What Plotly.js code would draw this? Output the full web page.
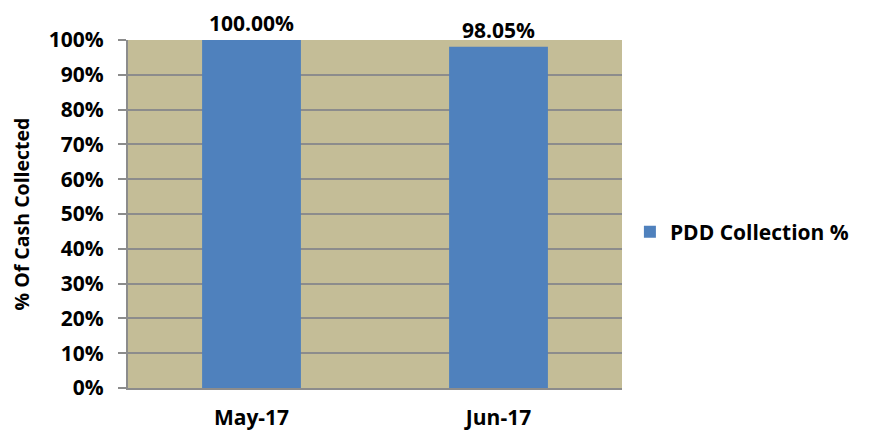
<!DOCTYPE html>
<html><head><meta charset="utf-8">
<script src="https://cdn.plot.ly/plotly-3.0.1.min.js"></script>
<style>body{margin:0;background:#fff}#c{width:877px;height:435px}</style>
</head><body><div id="c"></div>
<script>
const categories = ["May-17", "Jun-17"];
const collectionPct = [1.0, 0.9805];
const seriesName = "PDD Collection %";
const yTickVals = [0,0.1,0.2,0.3,0.4,0.5,0.6,0.7,0.8,0.9,1.0];

const F = "Open Sans, Lato, sans-serif";
const trace = {
  type: "bar", x: categories, y: collectionPct, name: seriesName,
  marker: {color: "#4F81BD"},
  texttemplate: "%{y:.2%}", textposition: "outside", cliponaxis: false,
  textfont: {family: F, size: 21, color: "#000", weight: 700}
};
const layout = {
  width: 877, height: 435,
  margin: {l: 128, r: 255, t: 40, b: 47},
  paper_bgcolor: "#fff", plot_bgcolor: "#C4BD97",
  bargap: 0.6, showlegend: true,
  legend: {x: 1.016, y: 0.448, xanchor: "left", yanchor: "middle",
    font: {family: F, size: 21, color: "#000", weight: 700}},
  xaxis: {showline: true, linecolor: "#8c8c8c", linewidth: 2, ticks: "",
    tickfont: {family: F, size: 21, color: "#000", weight: 700}, ticklabelstandoff: 10},
  yaxis: {range: [0, 1], tickvals: yTickVals, tickformat: ".0%",
    showline: true, linecolor: "#8c8c8c", linewidth: 2,
    ticks: "outside", ticklen: 8, tickcolor: "#8c8c8c", tickwidth: 2,
    showgrid: true, gridcolor: "#8c8c8c", gridwidth: 1.5, zeroline: false,
    ticklabelstandoff: 10,
    tickfont: {family: F, size: 21, color: "#000", weight: 700},
    title: {text: "% Of Cash Collected", standoff: 14,
      font: {family: F, size: 19.5, color: "#000", weight: 700}}}
};
Plotly.newPlot("c", [trace], layout, {displayModeBar: false});
</script></body></html>
